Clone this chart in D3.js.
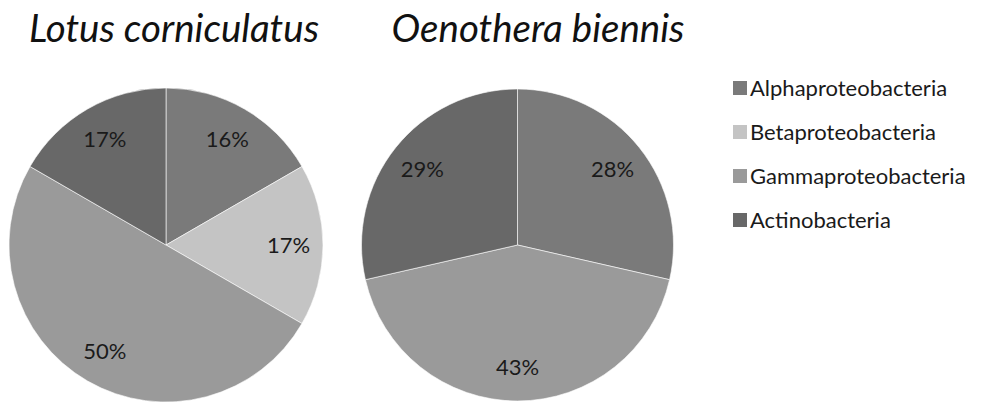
<!DOCTYPE html>
<html><head><meta charset="utf-8">
<script src="https://cdn.jsdelivr.net/npm/d3@7"></script>
<style>html,body{margin:0;padding:0;background:#fff;}svg{display:block;}</style>
</head><body>
<svg id="chart" width="986" height="402"></svg>
<script>
const categories = ["Alphaproteobacteria","Betaproteobacteria","Gammaproteobacteria","Actinobacteria"];
const colors = ["#7a7a7a","#c4c4c4","#9a9a9a","#686868"];
const plants = ["Lotus corniculatus","Oenothera biennis"];
const lotusValues = [16.67, 16.67, 50, 16.67];
const lotusLabels = ["16%","17%","50%","17%"];
const oenotheraValues = [28.57, 0, 42.86, 28.57];
const oenotheraLabels = ["28%","","43%","29%"];

const svg = d3.select("#chart");
const font = "Lato, 'Open Sans', sans-serif";
const pies = [
  {title: plants[0], values: lotusValues, labels: lotusLabels, cx: 166, cy: 245, r: 157, tx: 174},
  {title: plants[1], values: oenotheraValues, labels: oenotheraLabels, cx: 517.5, cy: 245, r: 156, tx: 538}
];
const pie = d3.pie().sort(null).value(d => d.v);

pies.forEach(p => {
  const data = categories.map((c, i) => ({c, v: p.values[i], lab: p.labels[i], col: colors[i]}));
  const arcs = pie(data);
  const arc = d3.arc().innerRadius(0).outerRadius(p.r);
  const labArc = d3.arc().innerRadius(p.r * 0.78).outerRadius(p.r * 0.78);
  const g = svg.append("g").attr("transform", `translate(${p.cx},${p.cy})`);
  g.selectAll("path").data(arcs.filter(a => a.data.v > 0)).join("path")
    .attr("d", arc).attr("fill", d => d.data.col)
    .attr("stroke", "#ffffff").attr("stroke-width", 0.6);
  g.selectAll("text").data(arcs.filter(a => a.data.v > 0)).join("text")
    .attr("transform", d => `translate(${labArc.centroid(d)})`)
    .attr("text-anchor", "middle").attr("dy", "0.36em")
    .attr("font-family", font).attr("font-size", 22).attr("fill", "#1a1a1a")
    .text(d => d.data.lab);
  svg.append("text").attr("x", p.tx).attr("y", 42)
    .attr("text-anchor", "middle").attr("font-family", font)
    .attr("font-style", "italic").attr("font-size", 38.5).attr("fill", "#111")
    .text(p.title);
});

const leg = svg.append("g").attr("transform", "translate(733,88)");
const rows = leg.selectAll("g").data(categories).join("g")
  .attr("transform", (d, i) => `translate(0,${i * 44})`);
rows.append("rect").attr("x", 0).attr("y", -7).attr("width", 14).attr("height", 14)
  .attr("fill", (d, i) => colors[i]);
rows.append("text").attr("x", 17).attr("dy", "0.36em")
  .attr("font-family", font).attr("font-size", 22).attr("fill", "#1a1a1a")
  .text(d => d);
</script>
</body></html>
